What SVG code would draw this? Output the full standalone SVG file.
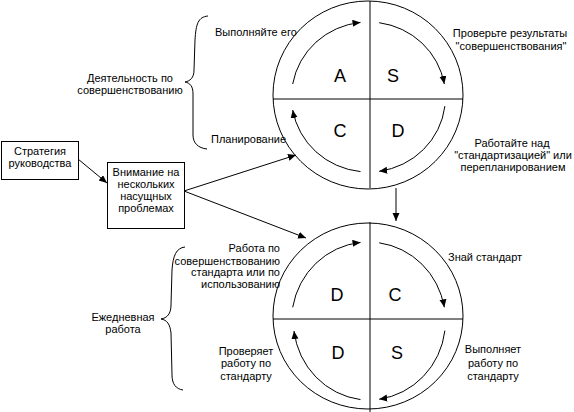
<svg xmlns="http://www.w3.org/2000/svg" width="574" height="412" viewBox="0 0 574 412">
<style>
.ln{fill:none;stroke:#000;stroke-width:1}
.t{font-family:"Liberation Sans",Arial,sans-serif;font-size:11px;fill:#000}
.m{text-anchor:middle}
.e{text-anchor:end}
.L{font-family:"Liberation Sans",Arial,sans-serif;font-size:18px;fill:#000;text-anchor:middle}
</style>
<defs>
<marker id="ah" markerUnits="userSpaceOnUse" markerWidth="9" markerHeight="8" refX="8" refY="3.5" orient="auto">
<path d="M0,0 L8,3.5 L0,7 z" fill="#000"/>
</marker>
</defs>
<rect width="574" height="412" fill="#fff"/>

<g id="cycle-top">
<ellipse class="ln" cx="368" cy="95" rx="95" ry="94"/>
<line class="ln" x1="273" y1="99" x2="463" y2="99"/>
<line class="ln" x1="370" y1="1" x2="370" y2="188"/>
<path class="ln" marker-end="url(#ah)" d="M292.7,84 A77,75 0 0 1 360.5,22.4"/>
<path class="ln" marker-end="url(#ah)" d="M379.2,22.7 A77,75 0 0 1 444.3,84"/>
<path class="ln" marker-end="url(#ah)" d="M444.9,106.1 A77,75 0 0 1 379.2,171.3"/>
<path class="ln" marker-end="url(#ah)" d="M360.5,171.6 A77,75 0 0 1 292.7,110"/>
<text class="L" x="340" y="82">A</text>
<text class="L" x="393" y="82">S</text>
<text class="L" x="340" y="137">C</text>
<text class="L" x="398" y="137">D</text>
</g>

<g id="cycle-bottom">
<ellipse class="ln" cx="368" cy="316" rx="95" ry="93"/>
<line class="ln" x1="273" y1="319" x2="463" y2="319"/>
<line class="ln" x1="370" y1="222" x2="370" y2="412"/>
<path class="ln" marker-end="url(#ah)" d="M292.7,307.3 A77,79 0 0 1 360.5,242.4"/>
<path class="ln" marker-end="url(#ah)" d="M379.2,242.8 A77,79 0 0 1 444.3,307.3"/>
<path class="ln" marker-end="url(#ah)" d="M444.9,330.6 A77,79 0 0 1 379.2,399.2"/>
<path class="ln" marker-end="url(#ah)" d="M360.5,399.6 A77,79 0 0 1 294,331"/>
<text class="L" x="337" y="300.5">D</text>
<text class="L" x="395" y="300.5">C</text>
<text class="L" x="338" y="359">D</text>
<text class="L" x="397" y="359">S</text>
</g>

<g id="strategy">
<rect class="ln" x="1.5" y="141.5" width="77" height="38"/>
<text class="t m" x="40" y="155">Стратегия</text>
<text class="t m" x="40" y="167">руководства</text>
</g>

<g id="focus">
<rect class="ln" x="107.5" y="162.5" width="77" height="66"/>
<text class="t m" x="146" y="176">Внимание на</text>
<text class="t m" x="146" y="188">нескольких</text>
<text class="t m" x="146" y="200">насущных</text>
<text class="t m" x="146" y="212">проблемах</text>
</g>

<g id="improve-label">
<path class="ln" d="M208,16 C198,17 196,24 195,40 L194,70 C194,78 190,81 185,82 C190,83 193,86 193,94 L193,135 C193,143 198,148 207,149"/>
<text class="t m" x="130" y="82">Деятельность по</text>
<text class="t m" x="130" y="94">совершенствованию</text>
</g>

<g id="daily-label">
<path class="ln" d="M185,247 C176,248 173,256 172,270 L171,305 C171,314 167,318 161,319 C167,320 170,324 171,333 L172,375 C172,384 176,389 183,390"/>
<text class="t m" x="123" y="321">Ежедневная</text>
<text class="t m" x="123" y="333">работа</text>
</g>

<g id="labels-top">
<text class="t" x="215" y="36">Выполняйте его</text>
<text class="t" x="211" y="143">Планирование</text>
<text class="t m" x="510" y="37">Проверьте результаты</text>
<text class="t m" x="511" y="50">"совершенствования"</text>
<text class="t m" x="512" y="147">Работайте над</text>
<text class="t m" x="513" y="159">"стандартизацией" или</text>
<text class="t m" x="513" y="171">перепланированием</text>
</g>

<g id="labels-bottom">
<text class="t e" x="280" y="252">Работа по</text>
<text class="t e" x="280" y="265">совершенствованию</text>
<text class="t e" x="280" y="276">стандарта или по</text>
<text class="t e" x="280" y="288">использованию</text>
<text class="t" x="448" y="261">Знай стандарт</text>
<text class="t m" x="246" y="355">Проверяет</text>
<text class="t m" x="246" y="367">работу по</text>
<text class="t m" x="246" y="380">стандарту</text>
<text class="t m" x="493" y="353">Выполняет</text>
<text class="t m" x="493" y="367">работу по</text>
<text class="t m" x="493" y="380">стандарту</text>
</g>

<g id="connectors">
<line class="ln" marker-end="url(#ah)" x1="78" y1="159" x2="107" y2="183"/>
<line class="ln" marker-end="url(#ah)" x1="184" y1="191" x2="296" y2="155"/>
<line class="ln" marker-end="url(#ah)" x1="184" y1="191" x2="306" y2="238"/>
<line class="ln" marker-end="url(#ah)" x1="396" y1="188" x2="396" y2="221"/>
</g>
</svg>
